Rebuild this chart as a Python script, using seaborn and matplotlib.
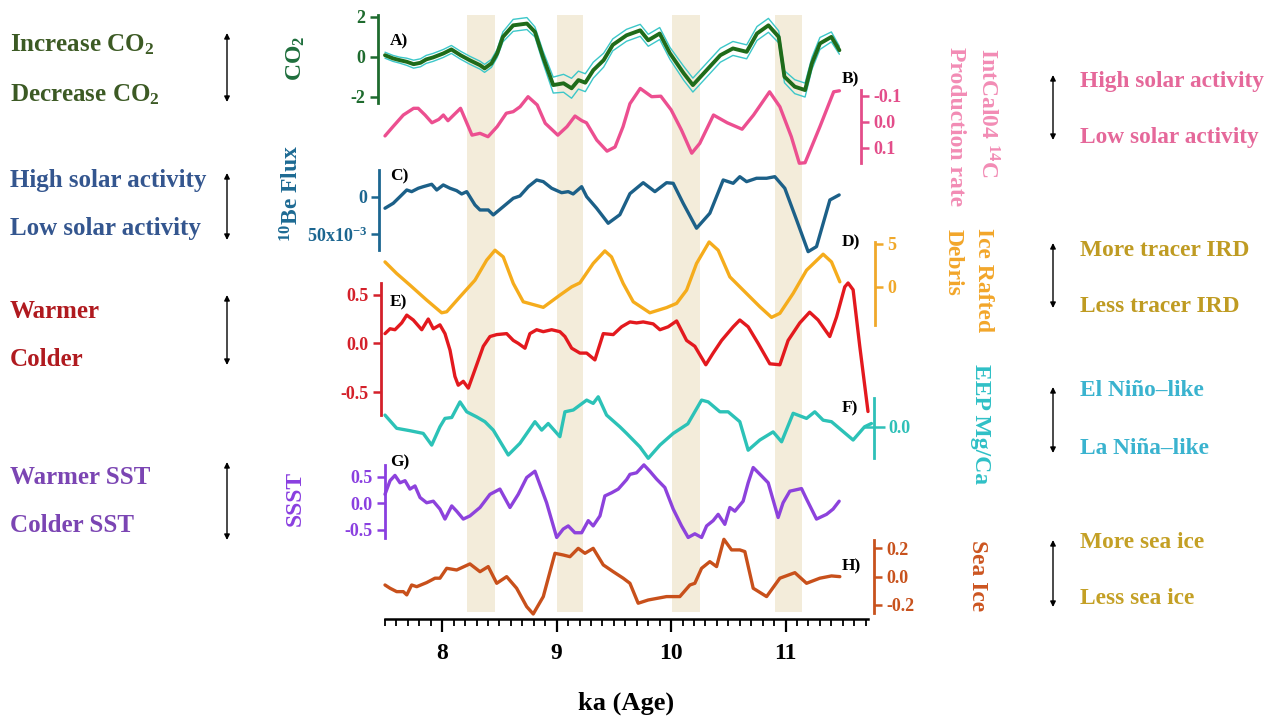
import matplotlib
matplotlib.use("Agg")
import matplotlib.pyplot as plt
from matplotlib.ticker import MultipleLocator
import numpy as np
import seaborn as sns

W, H = 1267, 718
X0, X1 = 385, 868          # pixel extent of the time axis
XLIM = (7.5, 11.72)

# ---- data (ka, values) -----------------------------------------------
co2_age = [7.50, 7.57, 7.63, 7.69, 7.75, 7.81, 7.86, 7.92, 8.01, 8.08,
           8.16, 8.24, 8.33, 8.37, 8.43, 8.48, 8.53, 8.62, 8.74, 8.81,
           8.88, 8.97, 9.06, 9.13, 9.19, 9.25, 9.32, 9.41, 9.49, 9.61,
           9.73, 9.80, 9.90, 9.99, 10.11, 10.19, 10.31, 10.43, 10.54, 10.66,
           10.75, 10.85, 10.94, 10.99, 11.08, 11.17, 11.23, 11.30, 11.40, 11.47]
co2_val = [0.08, -0.08, -0.17, -0.25, -0.37, -0.30, -0.13, -0.03, 0.17, 0.37,
           0.08, -0.17, -0.42, -0.58, -0.33, 0.17, 1.00, 1.58, 1.67, 1.25,
           0.00, -1.42, -1.33, -1.58, -1.17, -1.30, -0.67, -0.17, 0.60, 1.08,
           1.33, 0.83, 1.17, 0.17, -0.83, -1.42, -0.67, 0.08, 0.42, 0.25,
           1.17, 1.58, 1.00, -1.00, -1.50, -1.67, -0.33, 0.67, 1.00, 0.33]
co2_err = [0.15, 0.15, 0.15, 0.18, 0.20, 0.20, 0.20, 0.20, 0.20, 0.20,
           0.20, 0.20, 0.20, 0.20, 0.20, 0.20, 0.25, 0.30, 0.30, 0.25,
           0.30, 0.40, 0.45, 0.50, 0.45, 0.45, 0.40, 0.35, 0.30, 0.30,
           0.30, 0.30, 0.30, 0.30, 0.35, 0.35, 0.35, 0.35, 0.35, 0.35,
           0.35, 0.35, 0.30, 0.30, 0.35, 0.35, 0.30, 0.30, 0.25, 0.20]

c14_age = [7.50, 7.57, 7.66, 7.75, 7.79, 7.85, 7.91, 7.97, 8.01, 8.05,
           8.10, 8.16, 8.26, 8.33, 8.40, 8.48, 8.56, 8.62, 8.68, 8.75,
           8.83, 8.90, 9.01, 9.09, 9.16, 9.22, 9.26, 9.35, 9.44, 9.51,
           9.58, 9.64, 9.73, 9.83, 9.91, 10.00, 10.09, 10.18, 10.25, 10.37,
           10.49, 10.62, 10.72, 10.86, 10.95, 11.05, 11.12, 11.17, 11.30, 11.42,
           11.47]
c14_val = [0.055, 0.019, -0.026, -0.052, -0.052, -0.026, 0.004, -0.009, -0.026, -0.004,
           -0.026, -0.052, 0.052, 0.045, 0.058, 0.019, -0.033, -0.039, -0.058, -0.097,
           -0.065, 0.006, 0.052, 0.019, -0.022, -0.004, 0.004, 0.071, 0.114, 0.098,
           0.019, -0.070, -0.129, -0.097, -0.099, -0.046, 0.032, 0.122, 0.084, -0.026,
           0.004, 0.029, -0.026, -0.116, -0.058, 0.058, 0.161, 0.159, 0.019, -0.116,
           -0.120]

be_age = [7.500, 7.572, 7.631, 7.690, 7.733, 7.791, 7.834, 7.908, 7.952, 8.009,
          8.068, 8.126, 8.170, 8.214, 8.286, 8.330, 8.402, 8.446, 8.533, 8.621,
          8.679, 8.752, 8.825, 8.883, 8.956, 9.043, 9.101, 9.144, 9.218, 9.262,
          9.349, 9.450, 9.552, 9.640, 9.756, 9.858, 9.960, 10.018, 10.105, 10.222,
          10.338, 10.455, 10.542, 10.600, 10.659, 10.746, 10.834, 10.906, 10.993, 11.096,
          11.197, 11.270, 11.387, 11.468]
be_val = [15.4, 8.8, 0.0, -8.9, -6.7, -11.2, -13.3, -16.5, -8.9, -15.6,
          -11.2, -8.0, -3.6, -6.7, 11.0, 17.7, 17.7, 24.3, 13.3, 2.1,
          -0.9, -13.3, -22.2, -20.0, -11.2, -5.3, -6.7, -3.6, -13.3, 0.0,
          15.4, 35.4, 24.0, -4.0, -18.6, -6.7, -18.6, -17.8, 8.8, 42.0,
          22.1, -22.2, -17.8, -26.6, -20.0, -24.5, -24.5, -26.6, -11.2, 31.0,
          73.2, 66.5, 4.4, -2.3]          # x 1e-3

ird_age = [7.500, 7.602, 7.718, 7.864, 7.995, 8.039, 8.155, 8.286, 8.388, 8.461,
           8.533, 8.621, 8.708, 8.883, 9.028, 9.131, 9.203, 9.319, 9.421, 9.479,
           9.581, 9.669, 9.814, 9.960, 10.048, 10.135, 10.222, 10.332, 10.411, 10.513,
           10.629, 10.775, 10.877, 10.950, 11.066, 11.183, 11.328, 11.401, 11.474]
ird_val = [2.88, 1.54, 0.20, -1.53, -3.00, -2.88, -1.15, 0.77, 3.08, 4.23,
           3.46, 0.39, -1.73, -2.37, -0.96, 0.00, 0.46, 2.70, 4.15, 3.46,
           0.39, -1.73, -3.00, -2.40, -1.91, -0.38, 2.70, 5.18, 4.23, 1.15,
           -0.38, -2.30, -3.53, -3.06, -0.76, 1.92, 3.77, 2.88, 0.58]

t_age = [7.500, 7.544, 7.587, 7.646, 7.690, 7.747, 7.821, 7.878, 7.922, 7.980,
         8.024, 8.068, 8.111, 8.140, 8.184, 8.228, 8.286, 8.359, 8.417, 8.476,
         8.563, 8.621, 8.664, 8.723, 8.766, 8.825, 8.883, 8.956, 9.028, 9.072,
         9.131, 9.203, 9.262, 9.334, 9.407, 9.494, 9.567, 9.640, 9.698, 9.756,
         9.843, 9.902, 9.974, 10.048, 10.135, 10.207, 10.303, 10.367, 10.441, 10.542,
         10.600, 10.673, 10.760, 10.862, 10.950, 11.022, 11.124, 11.210, 11.284, 11.386,
         11.445, 11.517, 11.546, 11.590, 11.648, 11.720]
t_val = [0.10, 0.15, 0.14, 0.21, 0.29, 0.24, 0.14, 0.25, 0.15, 0.19,
         0.10, -0.07, -0.34, -0.43, -0.39, -0.46, -0.27, -0.03, 0.07, 0.09,
         0.10, 0.03, 0.00, -0.05, 0.10, 0.14, 0.12, 0.14, 0.12, 0.07,
         -0.05, -0.10, -0.10, -0.17, 0.10, 0.09, 0.17, 0.22, 0.21, 0.22,
         0.20, 0.14, 0.17, 0.23, 0.03, -0.03, -0.22, -0.10, 0.03, 0.17,
         0.24, 0.17, 0.00, -0.21, -0.22, 0.03, 0.21, 0.32, 0.24, 0.07,
         0.27, 0.58, 0.62, 0.55, -0.03, -0.70]

mgca_age = [7.500, 7.602, 7.718, 7.834, 7.908, 7.980, 8.024, 8.083, 8.155, 8.214,
            8.301, 8.373, 8.446, 8.577, 8.679, 8.810, 8.869, 8.926, 9.028, 9.072,
            9.145, 9.262, 9.319, 9.363, 9.436, 9.552, 9.611, 9.727, 9.800, 9.902,
            10.018, 10.146, 10.266, 10.324, 10.426, 10.498, 10.600, 10.673, 10.775, 10.891,
            10.965, 11.066, 11.183, 11.255, 11.328, 11.401, 11.590, 11.690, 11.750]
mgca_val = [0.039, -0.005, -0.013, -0.022, -0.061, 0.000, 0.028, 0.031, 0.083, 0.050,
            0.033, 0.017, -0.011, -0.094, -0.055, 0.017, -0.011, 0.011, -0.033, 0.050,
            0.056, 0.089, 0.078, 0.100, 0.039, 0.000, -0.022, -0.067, -0.105, -0.061,
            -0.022, 0.010, 0.089, 0.083, 0.050, 0.050, 0.017, -0.078, -0.044, -0.017,
            -0.050, 0.045, 0.028, 0.050, 0.022, 0.017, -0.044, 0.000, 0.011]

ssst_age = [7.500, 7.544, 7.587, 7.631, 7.675, 7.718, 7.762, 7.806, 7.864, 7.922,
            7.980, 8.024, 8.083, 8.126, 8.184, 8.242, 8.330, 8.417, 8.504, 8.592,
            8.664, 8.738, 8.810, 8.912, 9.000, 9.057, 9.101, 9.159, 9.218, 9.276,
            9.319, 9.378, 9.421, 9.480, 9.538, 9.611, 9.640, 9.698, 9.762, 9.814,
            9.873, 9.945, 10.018, 10.091, 10.149, 10.207, 10.266, 10.310, 10.367, 10.411,
            10.469, 10.513, 10.557, 10.629, 10.673, 10.717, 10.790, 10.848, 10.935, 10.978,
            11.037, 11.139, 11.183, 11.270, 11.358, 11.415, 11.468]
ssst_val = [0.17, 0.43, 0.53, 0.39, 0.43, 0.27, 0.33, 0.11, 0.01, 0.04,
            -0.11, -0.30, -0.05, -0.15, -0.30, -0.24, -0.08, 0.17, 0.27, -0.08,
            0.17, 0.49, 0.61, 0.01, -0.65, -0.49, -0.43, -0.56, -0.56, -0.33,
            -0.43, -0.24, 0.14, 0.20, 0.27, 0.45, 0.55, 0.58, 0.73, 0.61,
            0.46, 0.30, -0.11, -0.43, -0.65, -0.58, -0.65, -0.43, -0.33, -0.21,
            -0.40, -0.08, -0.15, 0.04, 0.39, 0.68, 0.52, 0.39, -0.27, 0.01,
            0.23, 0.28, 0.08, -0.30, -0.21, -0.11, 0.04]

ice_age = [7.500, 7.544, 7.602, 7.660, 7.690, 7.733, 7.777, 7.864, 7.937, 7.980,
           8.039, 8.126, 8.242, 8.330, 8.402, 8.476, 8.563, 8.650, 8.738, 8.795,
           8.883, 8.985, 9.057, 9.116, 9.188, 9.247, 9.319, 9.407, 9.494, 9.581,
           9.640, 9.712, 9.800, 9.960, 10.076, 10.164, 10.207, 10.266, 10.338, 10.397,
           10.461, 10.528, 10.600, 10.644, 10.717, 10.834, 10.950, 11.081, 11.183, 11.299,
           11.401, 11.474]
ice_val = [-0.059, -0.082, -0.106, -0.106, -0.129, -0.059, -0.071, -0.042, -0.011, -0.011,
           0.059, 0.047, 0.090, 0.035, 0.071, -0.047, 0.000, -0.082, -0.212, -0.264,
           -0.141, 0.165, 0.153, 0.141, 0.200, 0.165, 0.200, 0.083, 0.035, -0.011,
           -0.047, -0.188, -0.165, -0.141, -0.141, -0.059, -0.047, 0.059, 0.106, 0.071,
           0.264, 0.189, 0.189, 0.177, -0.082, -0.141, -0.011, 0.028, -0.047, -0.011,
           0.005, 0.000]

band_start = [8.22, 9.00, 10.01, 10.91]
band_end = [8.46, 9.23, 10.25, 11.14]

# ---- styling ----------------------------------------------------------
sns.set_theme(style="white")
plt.rcParams["font.family"] = ["Liberation Serif", "DejaVu Serif"]
plt.rcParams["font.weight"] = "bold"
plt.rcParams["mathtext.default"] = "regular"

fig = plt.figure(figsize=(W / 100, H / 100), dpi=100)


def px_box(x0, y0, x1, y1):
    return [x0 / W, 1 - y1 / H, (x1 - x0) / W, (y1 - y0) / H]


# ---- base axes: bands + time axis -------------------------------------
base = fig.add_axes(px_box(X0, 15, X1, 619))
base.set_xlim(*XLIM)
base.set_ylim(0, 1)
for a, b in zip(band_start, band_end):
    base.axvspan(a, b, ymin=7 / 604, ymax=1, color="#f3ecda", lw=0, zorder=0)
for s in ["top", "left", "right"]:
    base.spines[s].set_visible(False)
base.spines["bottom"].set_linewidth(1.8)
base.spines["bottom"].set_color("black")
base.set_yticks([])
base.set_xticks([8, 9, 10, 11])
base.xaxis.set_minor_locator(MultipleLocator(0.1))
base.tick_params(axis="x", which="major", length=9, width=1.6, colors="black",
                 labelsize=17, pad=8, bottom=True)
base.tick_params(axis="x", which="minor", length=5, width=1.3, colors="black", bottom=True)
base.patch.set_visible(False)


def panel(y0, y1, lim, side, color, ticks, labels, offset=0, tlen=6, tdir="out"):
    ax = fig.add_axes(px_box(X0, y0, X1, y1))
    ax.set_xlim(*XLIM)
    ax.set_ylim(*lim)
    ax.patch.set_visible(False)
    for s in ["top", "bottom", "left", "right"]:
        ax.spines[s].set_visible(s == side)
    ax.spines[side].set_color(color)
    ax.spines[side].set_linewidth(2)
    ax.spines[side].set_position(("outward", offset))
    ax.set_xticks([])
    ax.yaxis.set_ticks_position(side)
    ax.set_yticks(ticks)
    ax.set_yticklabels(labels)
    ax.tick_params(axis="y", colors=color, length=tlen, width=1.8, labelsize=13,
                   pad=3, direction=tdir)
    return ax


def draw(ax, x, y, color, lw=2.4):
    sns.lineplot(x=x, y=y, ax=ax, color=color, lw=lw, estimator=None,
                 sort=False, clip_on=False)
    ax.set_xlabel("")
    ax.set_ylabel("")


# A) CO2
ax = panel(15, 103, (-2.32, 2.1), "left", "#1e6b2e", [2, 0, -2], ["2", "0", "-2"], offset=5)
lo = np.array(co2_val) - np.array(co2_err)
hi = np.array(co2_val) + np.array(co2_err)
draw(ax, co2_age, hi, "#3cc7c9", lw=1.0)
draw(ax, co2_age, lo, "#3cc7c9", lw=1.0)
draw(ax, co2_age, co2_val, "#1f6b1a", lw=2.8)

# B) 14C production
ax = panel(90, 163, (0.160, -0.123), "right", "#e34d8a", [-0.1, 0.0, 0.1],
           ["-0.1", "0.0", "0.1"], offset=-5)
draw(ax, c14_age, c14_val, "#ec4f90")

# C) 10Be flux
ax = panel(170, 250, (71, -35.5), "left", "#1c6690", [0, 50], ["0", "50x10$^{-3}$"], offset=4)
draw(ax, be_age, be_val, "#1c6088")

# D) IRD
ax = panel(242, 325, (-4.41, 5.18), "right", "#f0a82a", [5, 0], ["5", "0"], offset=5)
draw(ax, ird_age, ird_val, "#f5ac1c")

# E) temperature
ax = panel(283, 415, (-0.736, 0.62), "left", "#d4202a", [0.5, 0.0, -0.5],
           ["0.5", "0.0", "-0.5"], offset=3)
draw(ax, t_age, t_val, "#e3191e")

# F) EEP Mg/Ca
ax = panel(398, 458, (-0.104, 0.096), "right", "#2ec0b8", [0.0], ["0.0"], offset=4,
           tlen=16, tdir="inout")
draw(ax, mgca_age, mgca_val, "#2cc2b7")

# G) SSST
ax = panel(465, 538, (-0.66, 0.728), "left", "#8a3fe0", [0.5, 0.0, -0.5],
           ["0.5", "0.0", "-0.5"], offset=0)
draw(ax, ssst_age, ssst_val, "#8d42dc")

# H) sea ice
ax = panel(540, 613, (-0.257, 0.259), "right", "#c8521d", [0.2, 0.0, -0.2],
           ["0.2", "0.0", "-0.2"], offset=4)
draw(ax, ice_age, ice_val, "#c8501b")

# ---- overlay for annotations (pixel coordinates) ----------------------
ov = fig.add_axes([0, 0, 1, 1])
ov.set_xlim(0, W)
ov.set_ylim(H, 0)
ov.axis("off")
ov.patch.set_visible(False)

ov.text(626, 703, "ka (Age)", fontsize=19, fontweight="bold", color="black",
        ha="center", va="center")

for lab, x, y in [("A)", 390, 41), ("B)", 842, 79), ("C)", 390, 176), ("D)", 842, 242),
                  ("E)", 390, 302), ("F)", 842, 408), ("G)", 390, 462), ("H)", 842, 566)]:
    ov.text(x, y, lab, fontsize=12.5, fontweight="bold", color="black", ha="left", va="center")

# rotated axis titles
for txt, x, y, rot, col in [
        ("CO$_2$", 296, 58, 90, "#1e6e3c"),
        ("$^{10}$Be Flux", 292, 193, 90, "#1d6a93"),
        ("SSST", 295, 498, 90, "#8a3fe0"),
        ("IntCal04 $^{14}$C", 987, 113, 270, "#f28cb5"),
        ("Production rate", 955, 127, 270, "#f28cb5"),
        ("Ice Rafted", 983, 280, 270, "#f2a62a"),
        ("Debris", 953, 262, 270, "#f2a62a"),
        ("EEP Mg/Ca", 980, 424, 270, "#2fc0c6"),
        ("Sea Ice", 977, 576, 270, "#cc5520")]:
    ov.text(x, y, txt, fontsize=17, fontweight="bold", color=col, rotation=rot,
            ha="center", va="center")

# interpretation labels + arrows
left_notes = [("Increase CO$_2$", "Decrease CO$_2$", 45, 95, 33, 102, "#3c5a24"),
              ("High solar activity", "Low solar activity", 181, 228, 173, 240, "#34568f"),
              ("Warmer", "Colder", 311, 359, 295, 365, "#b01a1f"),
              ("Warmer SST", "Colder SST", 478, 525, 462, 540, "#7b45b3")]
right_notes = [("High solar activity", "Low solar activity", 81, 137, 75, 140, "#e5689a"),
               ("More tracer IRD", "Less tracer IRD", 250, 306, 243, 308, "#bf9b22"),
               ("El Niño–like", "La Niña–like", 391, 448, 387, 453, "#3ab3cf"),
               ("More sea ice", "Less sea ice", 542, 598, 540, 607, "#c4a025")]

for notes, tx, ax_x, size in [(left_notes, 10, 227, 18), (right_notes, 1080, 1053, 16.8)]:
    for up, down, yu, yd, a0, a1, col in notes:
        ov.text(tx, yu, up, fontsize=size, fontweight="bold", color=col, ha="left", va="center")
        ov.text(tx, yd, down, fontsize=size, fontweight="bold", color=col, ha="left", va="center")
        ov.annotate("", xy=(ax_x, a0), xytext=(ax_x, a1),
                    arrowprops=dict(arrowstyle="<|-|>", color="black", lw=1.0,
                                    mutation_scale=8, shrinkA=0, shrinkB=0))

fig.savefig("out.png", dpi=100)
